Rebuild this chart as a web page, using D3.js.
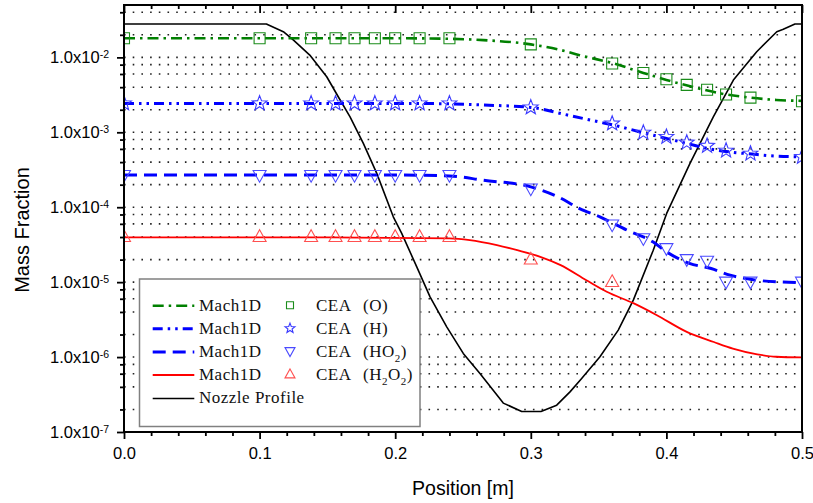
<!DOCTYPE html>
<html>
<head>
<meta charset="utf-8">
<script src="https://cdn.jsdelivr.net/npm/d3@7"></script>
<style>
  html, body { margin: 0; padding: 0; background: #fff; }
  svg { display: block; }
</style>
</head>
<body>
<svg id="chart" width="813" height="503"></svg>
<script>
// ---- Axis ticks ----
const xTicks = [0, 0.1, 0.2, 0.3, 0.4, 0.5];
const xTickLabels = ["0.0", "0.1", "0.2", "0.3", "0.4", "0.5"];
const yTickExponents = [-7, -6, -5, -4, -3, -2];
const yTickMantissa = "1.0x10";

// ---- Mach1D species profiles (position [m], mass fraction) ----
const machX_O = [0, 0.20, 0.24, 0.265, 0.30, 0.32, 0.336, 0.361, 0.383, 0.40, 0.42, 0.44, 0.462, 0.481, 0.50];
const machO   = [0.0180, 0.0180, 0.0177, 0.0170, 0.0149, 0.0128, 0.0107, 0.0083, 0.0062, 0.0050, 0.0040, 0.0033, 0.0029, 0.0027, 0.00263];

const machX_H = [0, 0.20, 0.24, 0.265, 0.30, 0.327, 0.35, 0.361, 0.383, 0.40, 0.417, 0.43, 0.446, 0.463, 0.481, 0.50];
const machH   = [0.00243, 0.00243, 0.00240, 0.00231, 0.00215, 0.00170, 0.00138, 0.00125, 0.000985, 0.000829, 0.000696, 0.000610, 0.000549, 0.000512, 0.000481, 0.000471];

const machX_HO2 = [0, 0.20, 0.24, 0.265, 0.30, 0.32, 0.336, 0.351, 0.371, 0.39, 0.40, 0.417, 0.433, 0.447, 0.462, 0.481, 0.50];
const machHO2   = [2.69e-4, 2.69e-4, 2.62e-4, 2.29e-4, 1.87e-4, 1.38e-4, 9.6e-5, 7.45e-5, 4.94e-5, 3.45e-5, 2.54e-5, 1.78e-5, 1.52e-5, 1.24e-5, 1.09e-5, 1.01e-5, 9.9e-6];

const machX_H2O2 = [0, 0.152, 0.24, 0.255, 0.275, 0.29, 0.307, 0.322, 0.341, 0.356, 0.376, 0.393, 0.415, 0.435, 0.449, 0.467, 0.481, 0.50];
const machH2O2   = [3.95e-5, 3.95e-5, 3.83e-5, 3.64e-5, 3.12e-5, 2.67e-5, 2.18e-5, 1.69e-5, 1.06e-5, 7.43e-6, 5.20e-6, 3.62e-6, 2.17e-6, 1.59e-6, 1.30e-6, 1.09e-6, 1.01e-6, 9.9e-7];

// ---- CEA equilibrium points ----
const ceaX    = [0, 0.1, 0.138, 0.156, 0.17, 0.185, 0.2, 0.218, 0.24, 0.3, 0.36, 0.383, 0.4, 0.415, 0.43, 0.444, 0.462, 0.5];
const ceaO    = [0.018, 0.018, 0.018, 0.018, 0.018, 0.018, 0.018, 0.018, 0.018, 0.0149, 0.0083, 0.0062, 0.0051, 0.0043, 0.0037, 0.0032, 0.0029, 0.0026];
const ceaH    = [0.00243, 0.00243, 0.00243, 0.00243, 0.00243, 0.00243, 0.00243, 0.00243, 0.00243, 0.00215, 0.00131, 0.00099, 0.00087, 0.00073, 0.00066, 0.00057, 0.00052, 0.00047];
const ceaHO2  = [2.65e-4, 2.65e-4, 2.65e-4, 2.65e-4, 2.65e-4, 2.65e-4, 2.65e-4, 2.65e-4, 2.65e-4, 1.75e-4, 5.8e-5, 3.8e-5, 2.8e-5, 2.0e-5, 1.9e-5, 1.0e-5, 1.0e-5, 1.0e-5];
const ceaX_H2O2 = [0, 0.1, 0.138, 0.156, 0.17, 0.185, 0.2, 0.218, 0.24, 0.3, 0.36];
const ceaH2O2   = [4.0e-5, 4.0e-5, 4.0e-5, 4.0e-5, 4.0e-5, 4.0e-5, 4.0e-5, 4.0e-5, 4.0e-5, 2.0e-5, 1.0e-5];

// ---- Nozzle contour, drawn against the same axes ----
const nozzleX = [0, 0.105, 0.1175, 0.125, 0.137, 0.1495, 0.158, 0.1667, 0.1765, 0.1864, 0.1986, 0.2048, 0.2159, 0.2257, 0.238, 0.2502, 0.2625, 0.2797, 0.2933, 0.3075, 0.3191, 0.3289, 0.3375, 0.351, 0.3645, 0.3756, 0.3903, 0.4002, 0.4174, 0.4346, 0.4494, 0.4666, 0.4814, 0.4862, 0.4948, 0.5];
const nozzleY = [0.0279, 0.0279, 0.0220, 0.0170, 0.01074, 0.00551, 0.00298, 0.00161, 7.11e-4, 2.83e-4, 7.45e-5, 4.47e-5, 1.60e-5, 6.37e-6, 2.53e-6, 1.12e-6, 6.04e-7, 2.43e-7, 1.88e-7, 1.88e-7, 2.28e-7, 3.43e-7, 5.18e-7, 1.01e-6, 2.29e-6, 5.75e-6, 2.67e-5, 8.26e-5, 3.85e-4, 1.61e-3, 4.98e-3, 0.01188, 0.0220, 0.0237, 0.0279, 0.0279];

// ---- Layout ----
const plot = { left: 124, right: 802, top: 5, bottom: 432 };
const sansFont = "'Liberation Sans', Arial, sans-serif";
const serifFont = "'Liberation Serif', 'Times New Roman', serif";

const svg = d3.select("#chart");
const x = d3.scaleLinear().domain([0, 0.5]).range([plot.left, plot.right]);
const y = d3.scaleLog().domain([1e-7, 0.05]).range([plot.bottom, plot.top]);

const xMinor = d3.range(0, 0.5001, 0.02).filter(v => Math.abs(v * 10 - Math.round(v * 10)) > 1e-6);
const yMajor = yTickExponents.map(e => Math.pow(10, e));
const yMinor = [];
yTickExponents.forEach(e => [2, 4, 6, 8].forEach(m => {
  const v = m * Math.pow(10, e);
  if (v <= 0.05) yMinor.push(v);
}));

svg.append("defs").append("clipPath").attr("id", "plotClip")
  .append("rect")
  .attr("x", plot.left).attr("y", plot.top)
  .attr("width", plot.right - plot.left).attr("height", plot.bottom - plot.top);

// Dotted horizontal grid at every major and minor decade tick
svg.append("g").selectAll("line")
  .data(yMajor.concat(yMinor))
  .join("line")
  .attr("x1", plot.left).attr("x2", plot.right)
  .attr("y1", d => y(d)).attr("y2", d => y(d))
  .attr("stroke", "#222")
  .attr("stroke-width", 1.6)
  .attr("stroke-dasharray", "1.6 7.1");

// ---- Series ----
const lineGen = d3.line()
  .x(d => x(d[0]))
  .y(d => y(d[1]))
  .curve(d3.curveMonotoneX);

const zip = (xs, ys) => xs.map((v, i) => [v, ys[i]]);

const seriesStyles = [
  { xs: machX_O,    ys: machO,    color: "#008000", width: 2.6, dash: "11 5 2.5 5" },
  { xs: machX_H,    ys: machH,    color: "#0000ff", width: 3,   dash: "10 5 2.5 5 2.5 5" },
  { xs: machX_HO2,  ys: machHO2,  color: "#0000ff", width: 3,   dash: "13 7" },
  { xs: machX_H2O2, ys: machH2O2, color: "#ff0000", width: 1.8, dash: null }
];

const dataG = svg.append("g").attr("clip-path", "url(#plotClip)");

dataG.append("path")
  .datum(zip(nozzleX, nozzleY))
  .attr("fill", "none")
  .attr("stroke", "#000")
  .attr("stroke-width", 1.6)
  .attr("stroke-linejoin", "round")
  .attr("d", d3.line().x(d => x(d[0])).y(d => y(d[1])));

seriesStyles.forEach(s => {
  dataG.append("path")
    .datum(zip(s.xs, s.ys))
    .attr("fill", "none")
    .attr("stroke", s.color)
    .attr("stroke-width", s.width)
    .attr("stroke-dasharray", s.dash)
    .attr("d", lineGen);
});

// ---- Marker shapes ----
function squarePath(s) {
  const h = s / 2;
  return `M${-h},${-h}H${h}V${h}H${-h}Z`;
}
function starPath(R) {
  const r = R * 0.42;
  const pts = [];
  for (let k = 0; k < 10; k++) {
    const a = -Math.PI / 2 + k * Math.PI / 5;
    const rad = k % 2 === 0 ? R : r;
    pts.push([rad * Math.cos(a), rad * Math.sin(a)]);
  }
  return "M" + pts.map(p => p[0].toFixed(2) + "," + p[1].toFixed(2)).join("L") + "Z";
}
function triDownPath(w, up, down) {
  return `M${-w / 2},${-up}L${w / 2},${-up}L0,${down}Z`;
}
function triUpPath(w, up, down) {
  return `M0,${-up}L${w / 2},${down}L${-w / 2},${down}Z`;
}

const markerSets = [
  { xs: ceaX,      ys: ceaO,    path: squarePath(11),           color: "#1a8c1a" },
  { xs: ceaX,      ys: ceaH,    path: starPath(7.8),            color: "#3a3aff" },
  { xs: ceaX,      ys: ceaHO2,  path: triDownPath(13, 5, 6.7),  color: "#4a4aff" },
  { xs: ceaX_H2O2, ys: ceaH2O2, path: triUpPath(13, 7.3, 4.4),  color: "#ff5050" }
];

markerSets.forEach(m => {
  dataG.append("g").selectAll("path")
    .data(zip(m.xs, m.ys))
    .join("path")
    .attr("transform", d => `translate(${x(d[0])},${y(d[1])})`)
    .attr("d", m.path)
    .attr("fill", "none")
    .attr("stroke", m.color)
    .attr("stroke-width", 1.1);
});

// ---- Axes ----
function styleAxis(g) {
  g.select(".domain").remove();
  g.selectAll(".tick line").attr("stroke", "#000").attr("stroke-width", 1.8);
  g.selectAll(".tick text").attr("fill", "#000");
  g.attr("font-family", sansFont).attr("font-size", 16.5);
}

svg.append("g").attr("transform", `translate(0,${plot.bottom})`)
  .call(d3.axisBottom(x).tickValues(xTicks).tickSize(7).tickPadding(8.5)
    .tickFormat((d, i) => xTickLabels[i]))
  .call(styleAxis);
svg.append("g").attr("transform", `translate(0,${plot.bottom})`)
  .call(d3.axisBottom(x).tickValues(xMinor).tickSize(4).tickFormat(""))
  .call(styleAxis);

svg.append("g").attr("transform", `translate(0,${plot.top})`)
  .call(d3.axisTop(x).tickValues(xTicks).tickSize(-8).tickFormat(""))
  .call(styleAxis);
svg.append("g").attr("transform", `translate(0,${plot.top})`)
  .call(d3.axisTop(x).tickValues(xMinor).tickSize(-4).tickFormat(""))
  .call(styleAxis);

const leftMajor = svg.append("g").attr("transform", `translate(${plot.left},0)`)
  .call(d3.axisLeft(y).tickValues(yMajor).tickSize(7).tickPadding(8).tickFormat(""))
  .call(styleAxis);
leftMajor.selectAll(".tick text").each(function (d, i) {
  const t = d3.select(this);
  t.text(null);
  t.append("tspan").text(yTickMantissa);
  t.append("tspan").attr("dy", -4.8).attr("font-size", 10.5).text(String(yTickExponents[i]));
});
svg.append("g").attr("transform", `translate(${plot.left},0)`)
  .call(d3.axisLeft(y).tickValues(yMinor).tickSize(4).tickFormat(""))
  .call(styleAxis);

// Plot frame
svg.append("rect")
  .attr("x", plot.left).attr("y", plot.top)
  .attr("width", plot.right - plot.left).attr("height", plot.bottom - plot.top)
  .attr("fill", "none").attr("stroke", "#000").attr("stroke-width", 2);

// Axis titles
svg.append("text")
  .attr("x", (plot.left + plot.right) / 2).attr("y", 494.5)
  .attr("text-anchor", "middle")
  .attr("font-family", sansFont).attr("font-size", 19.5)
  .attr("fill", "#000")
  .text("Position [m]");

svg.append("text")
  .attr("transform", "translate(28.5,230) rotate(-90)")
  .attr("text-anchor", "middle")
  .attr("font-family", sansFont).attr("font-size", 20)
  .attr("fill", "#000")
  .text("Mass Fraction");

// ---- Legend ----
const legend = svg.append("g");
legend.append("rect")
  .attr("x", 139.5).attr("y", 279).attr("width", 280.5).attr("height", 147.5)
  .attr("fill", "#fff").attr("stroke", "#808080").attr("stroke-width", 1.5);

const legendRows = [
  { base: 310.7, line: seriesStyles[0], marker: squarePath(7),          mColor: markerSets[0].color, species: [["(O)"]] },
  { base: 333.8, line: seriesStyles[1], marker: starPath(5.2),          mColor: markerSets[1].color, species: [["(H)"]] },
  { base: 356.9, line: seriesStyles[2], marker: triDownPath(10, 3.8, 5.2), mColor: markerSets[2].color, species: [["(HO"], ["2", "sub"], [")"]] },
  { base: 380.0, line: seriesStyles[3], marker: triUpPath(10, 5.6, 3.4),   mColor: markerSets[3].color, species: [["(H"], ["2", "sub"], ["O"], ["2", "sub"], [")"]] }
];

legendRows.forEach(r => {
  legend.append("line")
    .attr("x1", 152.7).attr("x2", 194.3)
    .attr("y1", r.base - 5).attr("y2", r.base - 5)
    .attr("stroke", r.line.color)
    .attr("stroke-width", r.line.width)
    .attr("stroke-dasharray", r.line.dash);
  legend.append("text")
    .attr("x", 199).attr("y", r.base)
    .attr("font-family", serifFont).attr("font-size", 17).attr("letter-spacing", 0.5)
    .attr("fill", "#111")
    .text("Mach1D");
  legend.append("path")
    .attr("transform", `translate(290,${r.base - 5.5})`)
    .attr("d", r.marker)
    .attr("fill", "none").attr("stroke", r.mColor).attr("stroke-width", 1.1);
  legend.append("text")
    .attr("x", 316).attr("y", r.base)
    .attr("font-family", serifFont).attr("font-size", 17).attr("letter-spacing", 0.5)
    .attr("fill", "#111")
    .text("CEA");
  const sp = legend.append("text")
    .attr("x", 363).attr("y", r.base)
    .attr("font-family", serifFont).attr("font-size", 17).attr("letter-spacing", 0.5)
    .attr("fill", "#111");
  let shifted = false;
  r.species.forEach(part => {
    const ts = sp.append("tspan").text(part[0]);
    if (part[1] === "sub") {
      ts.attr("font-size", 11).attr("dy", 5);
      shifted = true;
    } else if (shifted) {
      ts.attr("dy", -5);
      shifted = false;
    }
  });
});

legend.append("line")
  .attr("x1", 152.7).attr("x2", 194.3)
  .attr("y1", 398.5).attr("y2", 398.5)
  .attr("stroke", "#000").attr("stroke-width", 1.6);
legend.append("text")
  .attr("x", 199).attr("y", 403.3)
  .attr("font-family", serifFont).attr("font-size", 17).attr("letter-spacing", 0.5)
  .attr("fill", "#111")
  .text("Nozzle Profile");
</script>
</body>
</html>
